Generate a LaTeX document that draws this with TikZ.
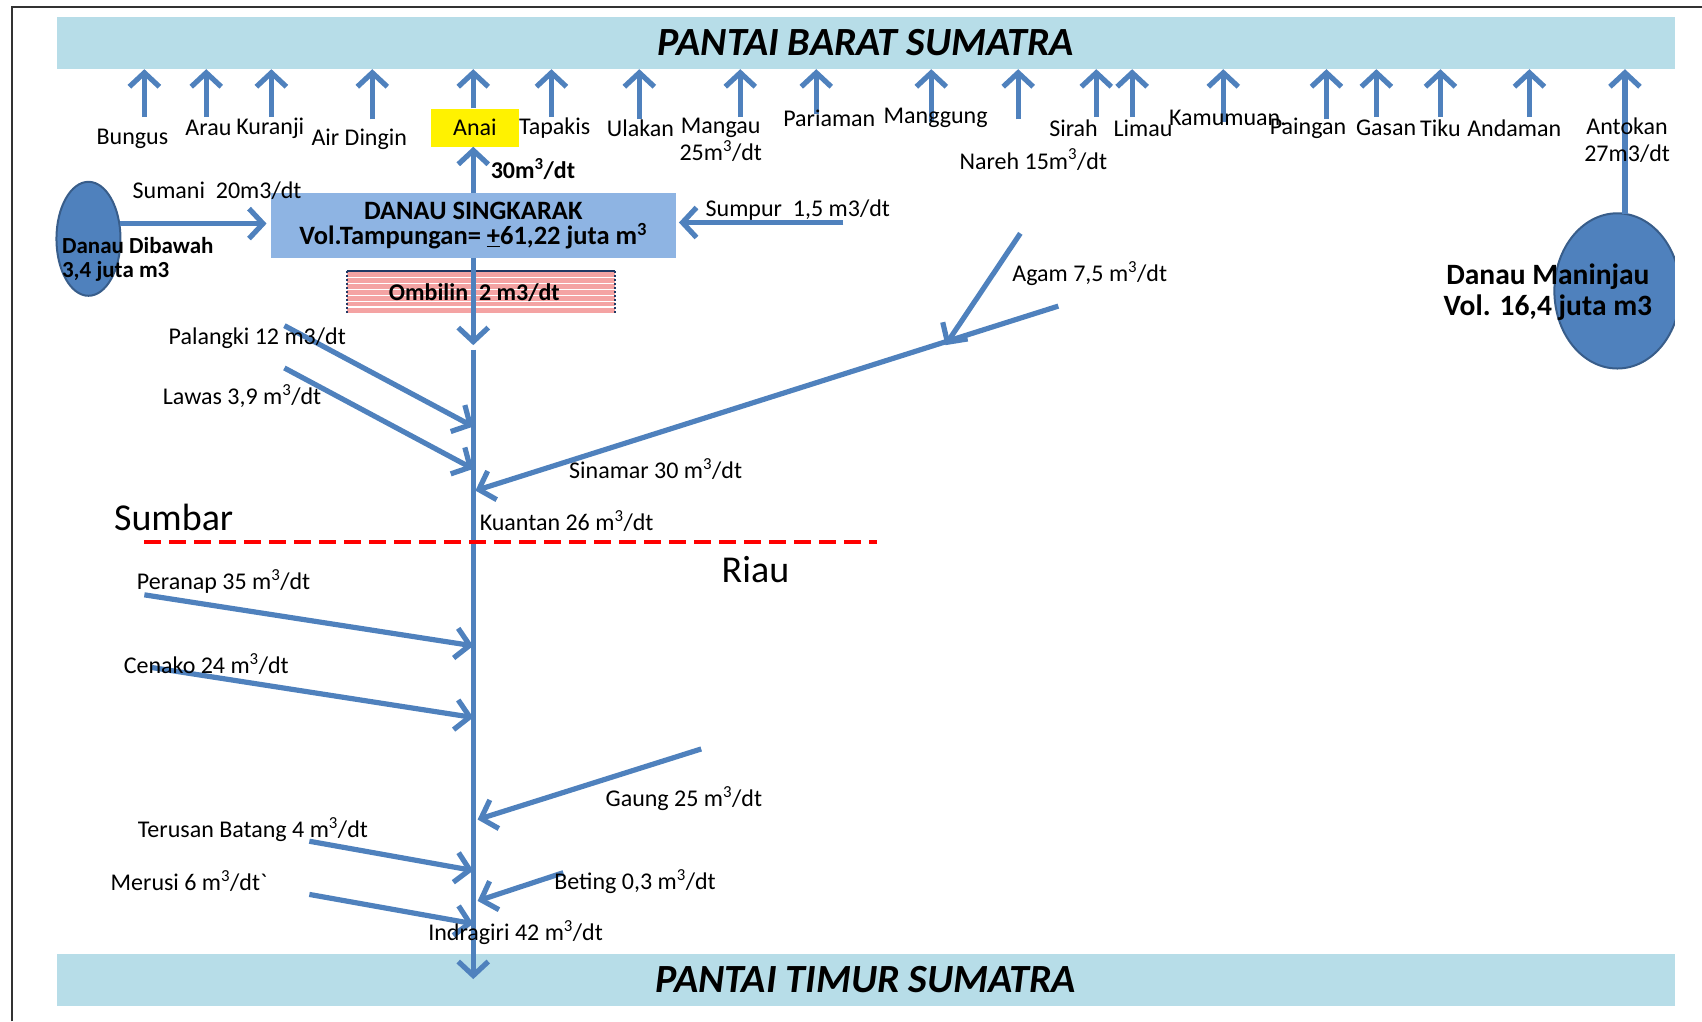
\documentclass[tikz,border=0pt]{standalone}
\usepackage{fontspec}
\setmainfont{Carlito}
\usetikzlibrary{arrows.meta,positioning}

\definecolor{bandblue}{HTML}{B7DDE8}
\definecolor{riverblue}{HTML}{4F81BD}
\definecolor{lakeedge}{HTML}{385D8A}
\definecolor{boxblue}{HTML}{8EB4E3}
\definecolor{navy}{HTML}{1F3864}
\definecolor{ombpink}{HTML}{F4A3A3}
\definecolor{framegray}{HTML}{333333}

\begin{document}
\begin{tikzpicture}[x=1.0855pt, y=-1.0855pt,
  flow/.style={-{Straight Barb[length=14pt,width=30pt]}, draw=riverblue, line width=5.2pt},
  lbl/.style={font=\fontsize{24}{27}\selectfont, inner sep=0pt},
  blbl/.style={font=\bfseries\fontsize{24}{26}\selectfont, inner sep=0pt},
  band/.style={fill=bandblue, minimum width=1618pt, minimum height=52pt, inner sep=0pt,
    font=\bfseries\itshape\fontsize{40}{42}\selectfont},
  lake/.style={fill=riverblue, draw=lakeedge, line width=2pt},
  batas/.style={draw=red, line width=4pt, dash pattern=on 17pt off 8pt}]

\useasboundingbox (0,0) rectangle (1568,941);
\draw[framegray, line width=2pt] (11,941) -- (11,6.5) -- (1568,6.5);

% pantai
\node[band] (barat) at (797.5,39.6) {PANTAI BARAT SUMATRA};
\node[band] (timur) at (797.5,902.5) {PANTAI TIMUR SUMATRA};

% danau
\filldraw[lake] (81.5,220) ellipse (29.5 and 52.5);
\begin{scope}
\clip (0,0) rectangle (1543,941);
\filldraw[lake] (1490,268) ellipse (58 and 71.5);
\end{scope}

\node[fill=boxblue, minimum width=405pt, minimum height=65pt, inner sep=0pt, align=center,
  font=\bfseries\fontsize{26.5}{25.5}\selectfont] (singkarak) at (436,208)
  {DANAU SINGKARAK\\Vol.Tampungan= \underline{+}61,22 juta m\textsuperscript{3}};
\node[fill=yellow, minimum width=88pt, minimum height=38pt, inner sep=0pt] (anai) at (437.5,117.5) {};

% ombilin
\fill[ombpink] (320,250) rectangle (567,288);
\foreach \yy in {255.5,261,...,284}
  \draw[white, line width=1.4pt] (320,\yy) -- (567,\yy);
\draw[navy, line width=2pt] (320,250) -- (567,250);
\draw[navy, line width=2pt, dash pattern=on 2pt off 2pt] (320,250) -- (320,288) (567,250) -- (567,288);

% sungai ke pantai barat
\foreach \xx/\yy [count=\i] in {133/108, 190/108, 250/108, 343/110, 508/108, 589/110, 682/108,
    752/105, 858/112, 938/110, 1010/108, 1043/108, 1127/112, 1222/110, 1268/108, 1327/108, 1409/108}
{
  \coordinate (o\i) at (\xx,\yy);
  \draw[flow] (o\i) -- (o\i |- barat.south);
}
\draw[flow] (anai.north -| singkarak.north) -- (singkarak.north |- barat.south);
\draw[flow] (singkarak.north) -- (singkarak.north |- anai.south);
\coordinate (maninjau-n) at (1497,197);
\draw[flow] (maninjau-n) -- (maninjau-n |- barat.south);

% masuk ke singkarak
\coordinate (dibawah-e) at (111,206);
\draw[flow, shorten >=4pt] (dibawah-e) -- (singkarak.west |- dibawah-e);
\coordinate (sumpur-hulu) at (777,205);
\draw[flow, shorten >=3pt] (sumpur-hulu) -- (singkarak.east |- sumpur-hulu);

% batang kuantan / indragiri
\coordinate (ombilin-keluar) at (436,318);
\draw[flow] (singkarak.south) -- (ombilin-keluar);
\coordinate (kuantan-hulu) at (436,322);
\coordinate (muara) at (436,902);
\draw[flow] (kuantan-hulu) -- (muara);

\foreach \nm/\xa/\ya/\xb/\yb in {palangki/262/300/436/393, lawas/262/339/436/432,
    sinamar/975/282/438/452, agam/940/215/871/318, peranap/133/548/436/595,
    cenako/140/615/436/661, gaung/646/690/440/755, terusan/285/775/436/802,
    merusi/285/824/436/851, beting/519/804/440/830}
{
  \coordinate (\nm-hulu) at (\xa,\ya);
  \coordinate (\nm-muara) at (\xb,\yb);
  \draw[flow] (\nm-hulu) -- (\nm-muara);
}

% batas provinsi
\coordinate (batas-w) at (133,499);
\coordinate (batas-e) at (808,499);
\draw[batas] (batas-w) -- (batas-e);

% label
\node[lbl] (bungus) at (122,128) {Bungus};
\node[lbl] (arau) at (192,118) {Arau};
\node[lbl] (kuranji) at (249,118) {Kuranji};
\node[lbl] (airdingin) at (331,128) {Air Dingin};
\node[lbl] at (anai) {Anai};
\node[lbl] (tapakis) at (511,118) {Tapakis};
\node[lbl] (ulakan) at (590,118) {Ulakan};
\node[lbl, align=center] (mangau) at (664,129) {Mangau\\25m\textsuperscript{3}/dt};
\node[lbl] (pariaman) at (764,109) {Pariaman};
\node[lbl] (manggung) at (862,109) {Manggung};
\node[lbl] (nareh) at (952,147) {Nareh 15m\textsuperscript{3}/dt};
\node[lbl] (sirah) at (989,118) {Sirah};
\node[lbl] (limau) at (1053,118) {Limau};
\node[lbl] (kamumuan) at (1131,109) {Kamumuan.};
\node[lbl] (paingan) at (1205,118) {Paingan};
\node[lbl] (gasan) at (1277,118) {Gasan};
\node[lbl] (tiku) at (1327,118) {Tiku};
\node[lbl] (andaman) at (1395,118) {Andaman};
\node[lbl, align=center] (antokan) at (1499,129) {Antokan\\27m3/dt};

\node[blbl] (debit-anai) at (491,156) {30m\textsuperscript{3}/dt};
\node[lbl] (sumani) at (200,176) {Sumani\ \ 20m3/dt};
\node[lbl] (sumpur) at (735,194) {Sumpur\ \ 1,5 m3/dt};
\node[blbl, font=\bfseries\fontsize{23}{24}\selectfont, anchor=west, align=left] (dibawah) at (57,239)
  {Danau Dibawah\\3,4 juta m3};
\node[blbl, font=\bfseries\fontsize{29.5}{30.5}\selectfont, align=center] (maninjau) at (1426,269)
  {Danau Maninjau\\Vol. 16,4 juta m3};
\node[blbl] (ombilin) at (437,270) {Ombilin\ \ 2 m3/dt};

\node[lbl] (palangki) at (237,312) {Palangki 12 m3/dt};
\node[lbl] (lawas) at (223,365) {Lawas 3,9 m\textsuperscript{3}/dt};
\node[lbl] (agam) at (1004,252) {Agam 7,5 m\textsuperscript{3}/dt};
\node[lbl] (sinamar) at (604,432) {Sinamar 30 m\textsuperscript{3}/dt};
\node[lbl, font=\fontsize{38}{40}\selectfont] (sumbar) at (160,477) {Sumbar};
\node[lbl] (kuantan) at (522,480) {Kuantan 26 m\textsuperscript{3}/dt};
\node[lbl, font=\fontsize{38}{40}\selectfont] (riau) at (696,525) {Riau};
\node[lbl] (peranap) at (206,536) {Peranap 35 m\textsuperscript{3}/dt};
\node[lbl] (cenako) at (190,612) {Cenako 24 m\textsuperscript{3}/dt};
\node[lbl] (gaung) at (630,736) {Gaung 25 m\textsuperscript{3}/dt};
\node[lbl] (terusan) at (233,764) {Terusan Batang 4 m\textsuperscript{3}/dt};
\node[lbl] (merusi) at (174,812) {Merusi 6 m\textsuperscript{3}/dt\textasciigrave};
\node[lbl] (beting) at (585,812) {Beting 0,3 m\textsuperscript{3}/dt};
\node[lbl] (indragiri) at (475,859) {Indragiri 42 m\textsuperscript{3}/dt};

\end{tikzpicture}
\end{document}
